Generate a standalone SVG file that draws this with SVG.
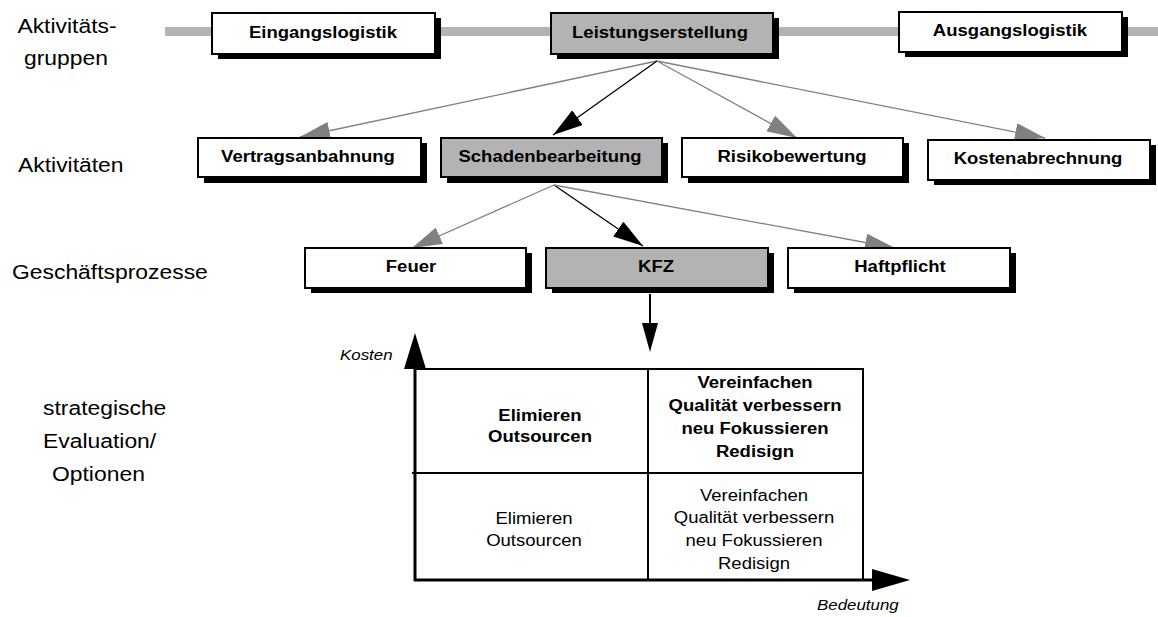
<svg xmlns="http://www.w3.org/2000/svg" width="1158" height="617" viewBox="0 0 1158 617">
<style>
  .box { stroke: #000; stroke-width: 2; }
  .w { fill: #fff; }
  .g { fill: #b3b3b3; }
  .sh { fill: #000; }
  .lbl { font-family: "Liberation Sans", Arial, sans-serif; font-size: 17px; font-weight: bold; fill: #000; text-anchor: middle; }
  .side { font-family: "Liberation Sans", Arial, sans-serif; font-size: 21px; fill: #000; }
  .mt { font-family: "Liberation Sans", Arial, sans-serif; font-size: 17px; fill: #000; text-anchor: middle; }
  .mb { font-weight: bold; }
  .ax { font-family: "Liberation Sans", Arial, sans-serif; font-size: 15.5px; font-style: italic; fill: #000; }
  .cg { stroke: #808080; stroke-width: 1.3; fill: none; marker-end: url(#ag); }
  .cb { stroke: #000; stroke-width: 1.3; fill: none; marker-end: url(#ab); }
  .grid { stroke: #000; stroke-width: 2; fill: none; }
</style>
<defs>
  <marker id="ag" markerUnits="userSpaceOnUse" markerWidth="30" markerHeight="18" refX="30" refY="9" orient="auto">
    <path d="M0,0 L30,9 L0,18 z" fill="#808080"/>
  </marker>
  <marker id="ab" markerUnits="userSpaceOnUse" markerWidth="30" markerHeight="18" refX="30" refY="9" orient="auto">
    <path d="M0,0 L30,9 L0,18 z" fill="#000"/>
  </marker>
</defs>
<rect width="1158" height="617" fill="#fff"/>

<g id="side-labels">
  <text class="side" transform="translate(67,33) scale(1.09,1)" text-anchor="middle">Aktivitäts-</text>
  <text class="side" transform="translate(66,65) scale(1.09,1)" text-anchor="middle">gruppen</text>
  <text class="side" transform="translate(18,172) scale(1.09,1)">Aktivitäten</text>
  <text class="side" transform="translate(12,279) scale(1.09,1)">Geschäftsprozesse</text>
  <text class="side" transform="translate(43,415) scale(1.09,1)">strategische</text>
  <text class="side" transform="translate(43,448) scale(1.09,1)">Evaluation/</text>
  <text class="side" transform="translate(52,481) scale(1.09,1)">Optionen</text>
</g>

<g id="bar">
  <line x1="165" y1="31.5" x2="1158" y2="31.5" stroke="#b3b3b3" stroke-width="9"/>
</g>

<g id="connectors">
  <line class="cg" x1="657" y1="61" x2="300" y2="137"/>
  <line class="cb" x1="657" y1="61" x2="553" y2="135"/>
  <line class="cg" x1="657" y1="61" x2="797" y2="138"/>
  <line class="cg" x1="657" y1="61" x2="1045" y2="138"/>
  <line class="cg" x1="554" y1="185" x2="412" y2="248"/>
  <line class="cb" x1="554" y1="185" x2="643" y2="246"/>
  <line class="cg" x1="554" y1="185" x2="895" y2="248"/>
  <line x1="650" y1="294" x2="650" y2="325" stroke="#000" stroke-width="2"/>
  <path d="M642,323 L658,323 L650,352 z" fill="#000"/>
</g>

<g id="n-eingangslogistik">
  <rect class="sh" x="218" y="18" width="223" height="41"/>
  <rect class="box w" x="212" y="13" width="223" height="41"/>
  <text class="lbl" transform="translate(323,38) scale(1.09,1)">Eingangslogistik</text>
</g>
<g id="n-leistungserstellung">
  <rect class="sh" x="557" y="18" width="222" height="41"/>
  <rect class="box g" x="551" y="13" width="222" height="41"/>
  <text class="lbl" transform="translate(660,38) scale(1.09,1)">Leistungserstellung</text>
</g>
<g id="n-ausgangslogistik">
  <rect class="sh" x="905" y="17" width="223" height="40"/>
  <rect class="box w" x="899" y="12" width="223" height="40"/>
  <text class="lbl" transform="translate(1010,36) scale(1.09,1)">Ausgangslogistik</text>
</g>

<g id="n-vertragsanbahnung">
  <rect class="sh" x="204" y="143" width="223" height="40"/>
  <rect class="box w" x="198" y="138" width="223" height="39"/>
  <text class="lbl" transform="translate(308,162) scale(1.09,1)">Vertragsanbahnung</text>
</g>
<g id="n-schadenbearbeitung">
  <rect class="sh" x="447" y="143" width="221" height="40"/>
  <rect class="box g" x="441" y="138" width="221" height="39"/>
  <text class="lbl" transform="translate(550,162) scale(1.09,1)">Schadenbearbeitung</text>
</g>
<g id="n-risikobewertung">
  <rect class="sh" x="688" y="143" width="221" height="40"/>
  <rect class="box w" x="682" y="138" width="221" height="39"/>
  <text class="lbl" transform="translate(792,162) scale(1.09,1)">Risikobewertung</text>
</g>
<g id="n-kostenabrechnung">
  <rect class="sh" x="934" y="145" width="222" height="40"/>
  <rect class="box w" x="928" y="140" width="222" height="40"/>
  <text class="lbl" transform="translate(1038,164) scale(1.09,1)">Kostenabrechnung</text>
</g>

<g id="n-feuer">
  <rect class="sh" x="311" y="253" width="221" height="40"/>
  <rect class="box w" x="305" y="248" width="221" height="40"/>
  <text class="lbl" transform="translate(411,272) scale(1.09,1)">Feuer</text>
</g>
<g id="n-kfz">
  <rect class="sh" x="552" y="253" width="222" height="40"/>
  <rect class="box g" x="546" y="248" width="222" height="40"/>
  <text class="lbl" transform="translate(656,272) scale(1.09,1)">KFZ</text>
</g>
<g id="n-haftpflicht">
  <rect class="sh" x="794" y="253" width="222" height="40"/>
  <rect class="box w" x="788" y="248" width="222" height="40"/>
  <text class="lbl" transform="translate(900,272) scale(1.09,1)">Haftpflicht</text>
</g>

<g id="matrix">
  <line x1="415" y1="581" x2="415" y2="360" stroke="#000" stroke-width="3"/>
  <path d="M404,369 L426,369 L415,333 z" fill="#000"/>
  <line x1="414" y1="580" x2="880" y2="580" stroke="#000" stroke-width="3"/>
  <path d="M872,569 L872,591 L910,580 z" fill="#000"/>
  <polyline class="grid" points="415,369 863,369 863,580"/>
  <line class="grid" x1="648" y1="370" x2="648" y2="580"/>
  <line class="grid" x1="412" y1="473" x2="862" y2="473"/>
  <text class="ax" transform="translate(340,360) scale(1.09,1)">Kosten</text>
  <text class="ax" transform="translate(817,610) scale(1.09,1)">Bedeutung</text>
  <text class="mt mb" transform="translate(540,421) scale(1.09,1)">Elimieren</text>
  <text class="mt mb" transform="translate(540,442) scale(1.09,1)">Outsourcen</text>
  <text class="mt mb" transform="translate(755,388) scale(1.09,1)">Vereinfachen</text>
  <text class="mt mb" transform="translate(755,411) scale(1.09,1)">Qualität verbessern</text>
  <text class="mt mb" transform="translate(755,434) scale(1.09,1)">neu Fokussieren</text>
  <text class="mt mb" transform="translate(755,457) scale(1.09,1)">Redisign</text>
  <text class="mt" transform="translate(534,524) scale(1.09,1)">Elimieren</text>
  <text class="mt" transform="translate(534,546) scale(1.09,1)">Outsourcen</text>
  <text class="mt" transform="translate(754,501) scale(1.09,1)">Vereinfachen</text>
  <text class="mt" transform="translate(754,523) scale(1.09,1)">Qualität verbessern</text>
  <text class="mt" transform="translate(754,546) scale(1.09,1)">neu Fokussieren</text>
  <text class="mt" transform="translate(754,569) scale(1.09,1)">Redisign</text>
</g>
</svg>
